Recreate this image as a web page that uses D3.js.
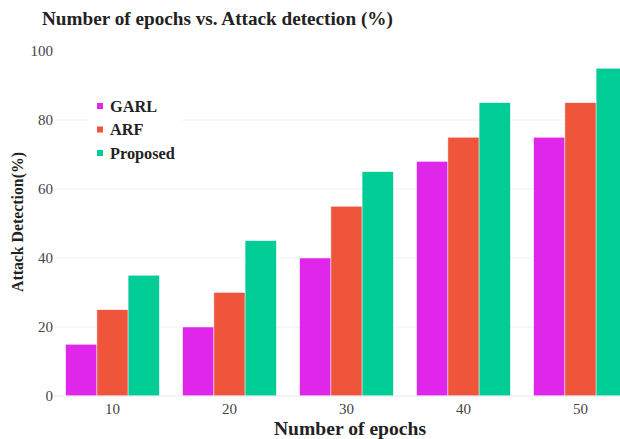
<!DOCTYPE html>
<html>
<head>
<meta charset="utf-8">
<script src="https://cdn.jsdelivr.net/npm/d3@7"></script>
<style>
  html, body { margin: 0; padding: 0; background: #fff; }
  svg { display: block; }
</style>
</head>
<body>
<svg id="chart" width="620" height="439"></svg>
<script>
// Attack detection (%) per training epoch count, for each method
const epochs = ["10", "20", "30", "40", "50"];
const seriesNames = ["GARL", "ARF", "Proposed"];
const garl = [15, 20, 40, 68, 75];
const arf = [25, 30, 55, 75, 85];
const proposed = [35, 45, 65, 85, 95];
const seriesColors = ["#e026ea", "#ef553b", "#00cc96"];
const yTicks = [0, 20, 40, 60, 80, 100];

const seriesValues = [garl, arf, proposed];

const W = 620, H = 439;
const plot = { left: 54, right: 639, top: 51, bottom: 396 };

const svg = d3.select("#chart");
const serif = "'Liberation Serif', 'Times New Roman', serif";

const xOuter = d3.scaleBand().domain(epochs).range([plot.left, plot.right]).padding(0);
const xGroup = d3.scaleBand().domain(seriesNames).range([0, xOuter.bandwidth() * 0.8]);
const y = d3.scaleLinear().domain([0, 100]).range([plot.bottom, plot.top]);

// Gridlines
svg.append("g")
  .selectAll("line")
  .data(yTicks.filter(d => d > 0 && d < 100))
  .join("line")
  .attr("x1", plot.left).attr("x2", W)
  .attr("y1", d => y(d)).attr("y2", d => y(d))
  .attr("stroke", "#eef0f6").attr("stroke-width", 1);

// Y tick labels
const yAxis = d3.axisLeft(y).tickValues(yTicks).tickSize(0).tickPadding(1);
const gy = svg.append("g").attr("transform", `translate(${plot.left},0)`).call(yAxis);
gy.select(".domain").remove();
gy.selectAll("text")
  .attr("font-family", serif).attr("font-size", 15).attr("fill", "#444");

// Bars
const groups = svg.append("g")
  .selectAll("g")
  .data(epochs)
  .join("g")
  .attr("transform", d => `translate(${xOuter(d) + xOuter.bandwidth() * 0.1},0)`);

groups.selectAll("rect")
  .data((d, i) => seriesNames.map((s, j) => ({ s, v: seriesValues[j][i], c: seriesColors[j] })))
  .join("rect")
  .attr("x", d => xGroup(d.s))
  .attr("width", xGroup.bandwidth())
  .attr("y", d => y(d.v))
  .attr("height", d => y(0) - y(d.v))
  .attr("fill", d => d.c)
  .attr("stroke", "#f4f4f8").attr("stroke-width", 0.5);

// Zero line
svg.append("line")
  .attr("x1", plot.left).attr("x2", W)
  .attr("y1", y(0)).attr("y2", y(0))
  .attr("stroke", "#e6e8f0").attr("stroke-width", 1);

// X tick labels
const xAxis = d3.axisBottom(xOuter).tickSize(0).tickPadding(7);
const gx = svg.append("g").attr("transform", `translate(0,${plot.bottom})`).call(xAxis);
gx.select(".domain").remove();
gx.selectAll("text")
  .attr("font-family", serif).attr("font-size", 15).attr("fill", "#444");

// Title
svg.append("text")
  .attr("x", 42).attr("y", 25)
  .attr("font-family", serif).attr("font-size", 19.2).attr("font-weight", "bold")
  .attr("fill", "#222")
  .text("Number of epochs vs. Attack detection (%)");

// Axis titles
svg.append("text")
  .attr("x", 350).attr("y", 435)
  .attr("text-anchor", "middle")
  .attr("font-family", serif).attr("font-size", 19.6).attr("font-weight", "bold")
  .attr("fill", "#222")
  .text("Number of epochs");

svg.append("text")
  .attr("transform", `translate(23,222) rotate(-90)`)
  .attr("text-anchor", "middle")
  .attr("font-family", serif).attr("font-size", 15.8).attr("font-weight", "bold")
  .attr("fill", "#222")
  .text("Attack Detection(%)");

// Legend
const legend = svg.append("g").attr("transform", "translate(88,94)");
legend.append("rect")
  .attr("width", 94).attr("height", 72).attr("fill", "#fff");
const items = legend.selectAll("g.item")
  .data(seriesNames)
  .join("g")
  .attr("class", "item")
  .attr("transform", (d, i) => `translate(0,${12 + i * 23.5})`);
items.append("rect")
  .attr("x", 9).attr("y", -3).attr("width", 6).attr("height", 6)
  .attr("fill", (d, i) => seriesColors[i]);
items.append("text")
  .attr("x", 22).attr("y", 5.5)
  .attr("font-family", serif).attr("font-size", 16.3).attr("font-weight", "bold")
  .attr("fill", "#222")
  .text(d => d);
</script>
</body>
</html>
